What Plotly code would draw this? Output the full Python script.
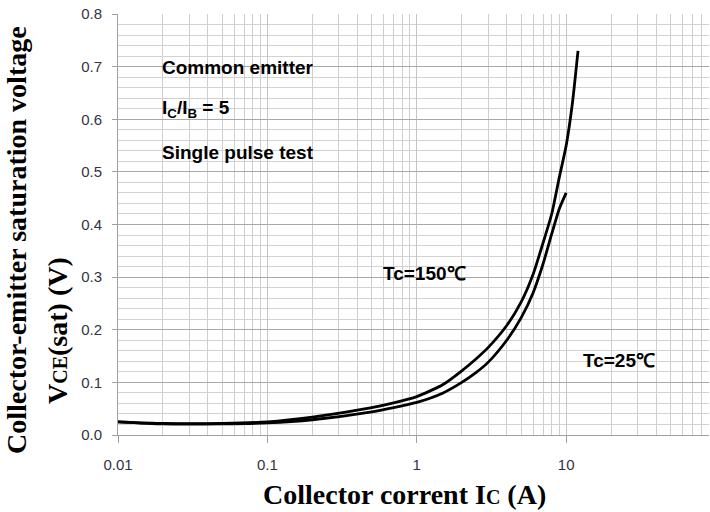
import plotly.graph_objects as go

# Collector current (A) and VCE(sat) (V)
ic_150 = [0.01, 0.02, 0.05, 0.1, 0.2, 0.5, 0.7, 1, 1.5, 2, 2.5, 3, 4, 5, 6, 7, 8, 9, 10, 11, 12]
vce_150 = [0.025, 0.022, 0.022, 0.025, 0.034, 0.052, 0.061, 0.073, 0.096, 0.122, 0.145, 0.166,
           0.208, 0.253, 0.305, 0.365, 0.42, 0.49, 0.55, 0.63, 0.73]

ic_25 = [0.01, 0.02, 0.05, 0.1, 0.2, 0.5, 0.7, 1, 1.5, 2, 2.5, 3, 4, 5, 6, 7, 8, 9, 10]
vce_25 = [0.025, 0.021, 0.021, 0.023, 0.029, 0.044, 0.052, 0.062, 0.080, 0.100, 0.119, 0.138,
          0.180, 0.223, 0.270, 0.325, 0.382, 0.430, 0.460]

x_tick_vals = [0.01, 0.1, 1, 10]
x_tick_text = ["0.01", "0.1", "1", "10"]

W, H = 710, 512
L, R, T, B = 118, 1, 14, 512 - 435
PW, PH = W - L - R, H - T - B


def px(xp):
    return (xp - L) / PW


def py(yp):
    return (H - B - yp) / PH


fig = go.Figure()
for xs, ys in [(ic_150, vce_150), (ic_25, vce_25)]:
    fig.add_trace(go.Scatter(x=xs, y=ys, mode="lines",
                             line=dict(color="black", width=2.8, shape="spline", smoothing=0.6),
                             showlegend=False, hoverinfo="skip"))

tick_font = dict(family="Liberation Sans, Arial, sans-serif", size=15, color="#333344")

fig.update_layout(
    width=W, height=H,
    margin=dict(l=L, r=R, t=T, b=B, autoexpand=False),
    paper_bgcolor="white", plot_bgcolor="white",
    xaxis=dict(type="log", range=[-2, 1.956],
               tickvals=x_tick_vals, ticktext=x_tick_text,
               ticks="outside", ticklen=7, tickcolor="#a0a0a0",
               tickfont=tick_font, ticklabelstandoff=9, ticklabeloverflow="allow",
               showline=True, linecolor="#a0a0a0", linewidth=1,
               showgrid=True, gridcolor="#c4c4c4", gridwidth=1,
               minor=dict(dtick="D1", showgrid=True, gridcolor="#cfcfcf", ticks=""),
               zeroline=False, automargin=False),
    yaxis=dict(range=[0, 0.8], dtick=0.1, tickformat=".1f",
               ticks="outside", ticklen=5, tickcolor="#a0a0a0",
               tickfont=tick_font, ticklabelstandoff=7, ticklabeloverflow="allow",
               showline=True, linecolor="#a0a0a0", linewidth=1,
               showgrid=True, gridcolor="#a8a8a8", gridwidth=1,
               minor=dict(dtick=0.02, showgrid=True, gridcolor="#d2d2d2", ticks=""),
               zeroline=False, automargin=False),
)

ann_font = dict(family="Liberation Sans, Arial, sans-serif", size=19, color="black")
serif = dict(family="Liberation Serif, Times New Roman, serif", size=28, color="black")

anns = [
    dict(text="<b>Common emitter</b>", x=px(160), y=py(67), xanchor="left", yanchor="middle", font=ann_font),
    dict(text="<b>I<sub>C</sub>/I<sub>B</sub> = 5</b>", x=px(160), y=py(109), xanchor="left", yanchor="middle", font=ann_font),
    dict(text="<b>Single pulse test</b>", x=px(160), y=py(152), xanchor="left", yanchor="middle", font=ann_font),
    dict(text="<b>Tc=150℃</b>", x=px(381), y=py(273), xanchor="left", yanchor="middle", font=ann_font),
    dict(text="<b>Tc=25℃</b>", x=px(581), y=py(360), xanchor="left", yanchor="middle", font=ann_font),
    dict(text="<b>Collector corrent I<span style='font-size:20px'>C</span> (A)</b>",
         x=px(404), y=py(494), xanchor="center", yanchor="middle", font=serif),
    dict(text="<b>Collector-emitter saturation voltage</b>", textangle=-90,
         x=px(16), y=py(240), xanchor="center", yanchor="middle", font=serif),
    dict(text="<b>V<span style='font-size:20px'>CE</span>(sat) (V)</b>", textangle=-90,
         x=px(57), y=py(331), xanchor="center", yanchor="middle", font=serif),
]
for a in anns:
    fig.add_annotation(xref="paper", yref="paper", showarrow=False, **a)

fig.write_html("out.html", config={"displayModeBar": False},
               post_script="document.body.style.margin='0';")
